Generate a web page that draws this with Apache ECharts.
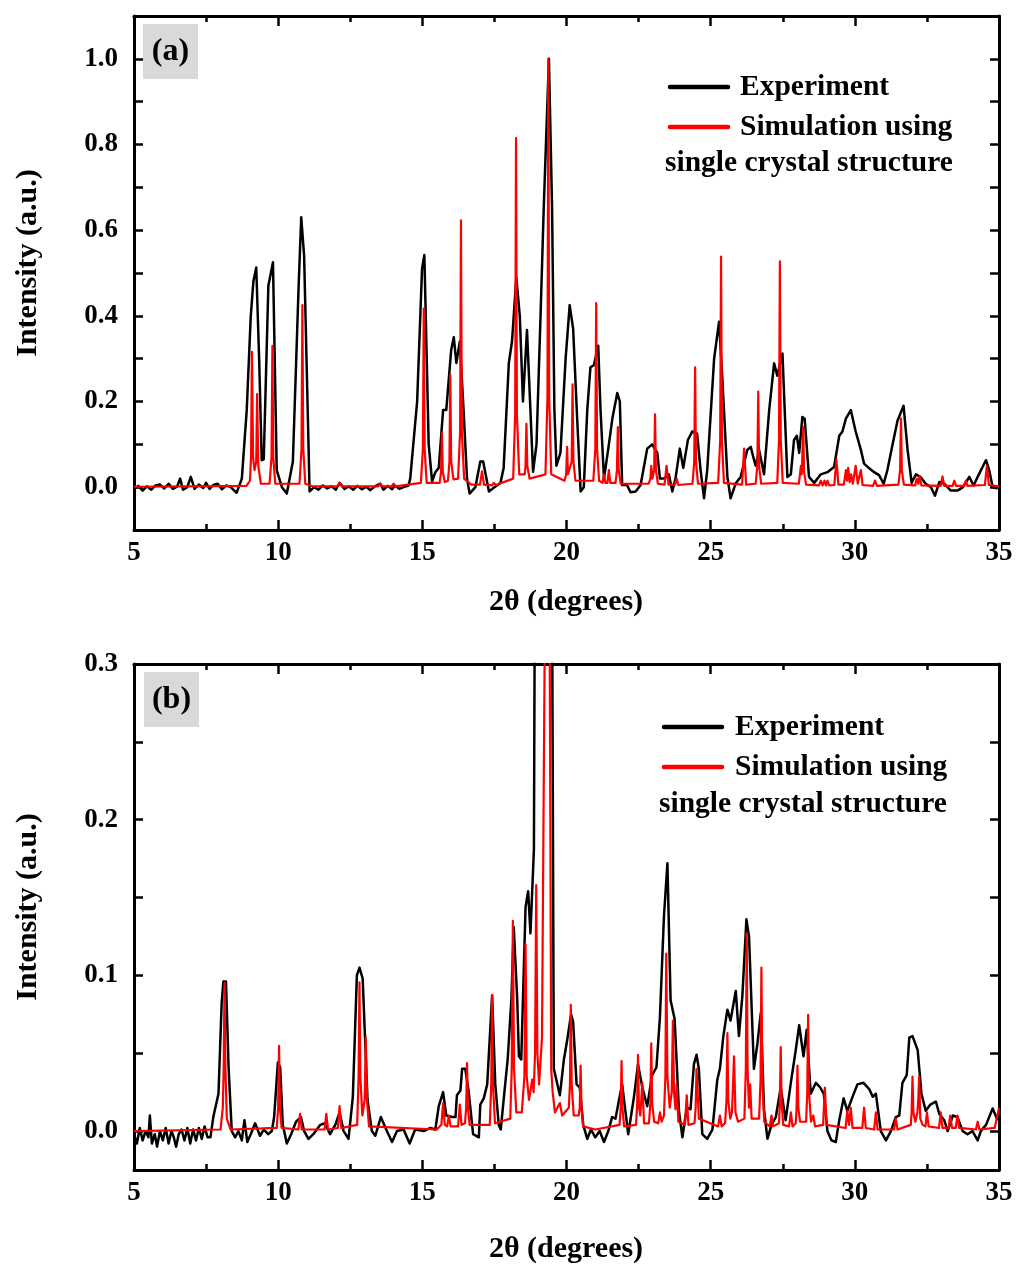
<!DOCTYPE html>
<html>
<head>
<meta charset="utf-8">
<script src="https://cdn.jsdelivr.net/npm/echarts@6/dist/echarts.min.js"></script>
<style>
html,body{margin:0;padding:0;background:#fff;}
#chart{width:1016px;height:1268px;}
</style>
</head>
<body>
<div id="chart"></div>
<script>
// ---------- DATA ----------
const xTicks = [5, 10, 15, 20, 25, 30, 35];
const yTicksA = [-0.1, 0, 0.1, 0.2, 0.3, 0.4, 0.5, 0.6, 0.7, 0.8, 0.9, 1.0, 1.1];
const yLabelsA = [0, 0.2, 0.4, 0.6, 0.8, 1.0];
const yTicksB = [0, 0.05, 0.1, 0.15, 0.2, 0.25, 0.3];
const yLabelsB = [0, 0.1, 0.2, 0.3];
const seriesNames = ['Experiment', 'Simulation using single crystal structure'];

// Panel (a) – experiment
const expA = [
[5.00,-0.005],[5.15,0.003],[5.30,-0.008],[5.45,0.002],[5.60,-0.006],[5.75,0.004],[5.90,0.006],[6.05,-0.003],
[6.20,0.008],[6.35,-0.004],[6.50,0.002],[6.60,0.020],[6.70,-0.006],[6.85,0.000],[6.97,0.024],[7.10,-0.004],
[7.25,0.006],[7.40,-0.002],[7.50,0.010],[7.62,-0.004],[7.75,0.005],[7.90,0.008],[8.05,-0.005],[8.20,0.004],
[8.35,0.000],[8.56,-0.013],[8.74,0.020],[8.91,0.180],[9.05,0.400],[9.14,0.480],[9.24,0.513],[9.34,0.300],
[9.43,0.063],[9.50,0.065],[9.66,0.470],[9.82,0.525],[9.95,0.040],[10.13,0.000],[10.30,-0.015],[10.51,0.060],
[10.71,0.470],[10.80,0.630],[10.90,0.540],[11.09,-0.010],[11.25,0.000],[11.40,-0.006],[11.55,0.004],[11.70,-0.003],
[11.85,0.002],[12.00,-0.006],[12.13,0.010],[12.30,-0.004],[12.45,0.002],[12.60,-0.006],[12.75,0.003],[12.90,-0.005],
[13.05,0.001],[13.20,-0.007],[13.35,0.002],[13.54,0.008],[13.65,-0.006],[13.80,0.003],[13.95,-0.005],[14.05,0.004],
[14.20,-0.004],[14.35,0.000],[14.52,0.004],[14.58,0.020],[14.82,0.200],[14.99,0.510],[15.07,0.542],[15.22,0.100],
[15.34,0.013],[15.45,0.035],[15.57,0.045],[15.72,0.180],[15.83,0.180],[16.00,0.320],[16.09,0.350],[16.18,0.290],
[16.30,0.340],[16.43,0.180],[16.55,0.020],[16.64,-0.015],[16.84,0.000],[17.01,0.060],[17.11,0.060],[17.31,-0.010],
[17.50,0.000],[17.71,0.010],[17.82,0.045],[18.00,0.290],[18.11,0.340],[18.26,0.490],[18.38,0.400],[18.49,0.200],
[18.63,0.367],[18.84,0.036],[18.96,0.100],[19.10,0.400],[19.21,0.650],[19.39,1.000],[19.50,0.650],[19.58,0.180],
[19.65,0.050],[19.79,0.080],[19.97,0.300],[20.11,0.425],[20.23,0.370],[20.37,0.160],[20.49,-0.010],[20.60,0.000],
[20.72,0.180],[20.83,0.280],[20.95,0.285],[21.10,0.330],[21.18,0.180],[21.30,0.020],[21.47,0.100],[21.59,0.160],
[21.76,0.220],[21.85,0.200],[21.93,0.005],[22.10,0.005],[22.22,-0.012],[22.40,-0.010],[22.57,0.005],[22.80,0.090],
[22.97,0.100],[23.15,0.080],[23.24,0.020],[23.40,0.020],[23.55,0.030],[23.67,-0.010],[23.78,0.020],[23.93,0.090],
[24.05,0.045],[24.21,0.110],[24.36,0.130],[24.53,0.125],[24.65,0.040],[24.77,-0.026],[24.88,0.040],[25.12,0.300],
[25.29,0.386],[25.40,0.260],[25.58,0.024],[25.69,-0.026],[25.87,0.009],[26.04,0.024],[26.27,0.087],[26.39,0.094],
[26.48,0.070],[26.56,0.050],[26.68,0.087],[26.85,0.030],[27.03,0.180],[27.20,0.289],[27.31,0.260],[27.49,0.312],
[27.66,0.024],[27.78,0.030],[27.89,0.110],[27.99,0.120],[28.07,0.080],[28.18,0.164],[28.26,0.160],[28.41,0.024],
[28.59,0.010],[28.82,0.030],[29.05,0.035],[29.28,0.047],[29.46,0.120],[29.57,0.130],[29.69,0.160],[29.86,0.180],
[30.03,0.130],[30.21,0.087],[30.32,0.055],[30.50,0.044],[30.67,0.035],[30.84,0.028],[31.00,0.008],[31.13,0.040],
[31.31,0.100],[31.48,0.155],[31.69,0.190],[31.83,0.087],[31.97,0.010],[32.12,0.030],[32.27,0.024],[32.46,0.008],
[32.64,0.000],[32.78,-0.020],[32.93,0.012],[33.10,0.008],[33.33,-0.008],[33.56,-0.008],[33.75,0.000],[33.97,0.024],
[34.12,0.004],[34.26,0.024],[34.43,0.047],[34.55,0.063],[34.66,0.040],[34.78,0.000],[34.95,-0.003]
];

// Panel (a) – simulation
const simA = [
[5.0,0.001],[8.9,0.003],
[9.02,0.015],[9.06,0.07],[9.09,0.316],[9.13,0.07],[9.18,0.04],[9.24,0.06],[9.27,0.217],[9.31,0.05],[9.40,0.008],
[9.70,0.008],[9.77,0.07],[9.80,0.33],[9.83,0.07],[9.90,0.008],
[10.74,0.008],[10.81,0.09],[10.84,0.425],[10.87,0.09],[10.94,0.008],
[11.2,0.002],[12.05,0.002],[12.13,0.01],[12.21,0.002],[13.47,0.002],[13.54,0.008],[13.61,0.002],[13.93,0.002],[14.0,0.008],[14.07,0.002],
[14.95,0.01],[15.02,0.09],[15.05,0.417],[15.08,0.09],[15.15,0.01],
[15.60,0.01],[15.65,0.035],[15.68,0.126],[15.71,0.035],[15.78,0.012],
[15.89,0.015],[15.94,0.06],[15.97,0.262],[16.00,0.06],[16.08,0.018],
[16.24,0.02],[16.31,0.13],[16.34,0.623],[16.37,0.13],[16.45,0.02],
[16.7,0.006],[17.0,0.006],[17.07,0.037],[17.14,0.006],[17.41,0.004],[17.48,0.01],[17.55,0.005],
[18.15,0.02],[18.22,0.17],[18.25,0.815],[18.28,0.17],[18.36,0.03],
[18.55,0.03],[18.58,0.05],[18.61,0.148],[18.64,0.05],[18.72,0.02],
[19.27,0.03],[19.34,0.21],[19.37,1.0],[19.40,0.21],[19.47,0.03],
[19.93,0.015],[19.99,0.03],[20.02,0.094],[20.05,0.03],[20.10,0.03],[20.18,0.06],[20.21,0.24],[20.24,0.06],[20.31,0.015],
[20.93,0.015],[21.00,0.09],[21.03,0.43],[21.06,0.09],[21.13,0.015],
[21.25,0.01],[21.30,0.03],[21.35,0.01],[21.42,0.01],[21.47,0.04],[21.52,0.01],[21.70,0.01],[21.75,0.04],[21.78,0.14],[21.81,0.04],[21.88,0.008],
[22.85,0.008],[22.91,0.02],[22.94,0.05],[22.98,0.02],[23.04,0.04],[23.07,0.17],[23.10,0.04],[23.17,0.008],
[23.40,0.006],[23.47,0.05],[23.54,0.006],[23.76,0.006],[23.82,0.02],[23.88,0.005],
[24.37,0.008],[24.43,0.06],[24.46,0.28],[24.49,0.06],[24.56,0.008],
[25.26,0.01],[25.33,0.11],[25.36,0.538],[25.39,0.11],[25.46,0.01],
[26.09,0.006],[26.16,0.09],[26.23,0.006],
[26.56,0.008],[26.62,0.05],[26.65,0.223],[26.68,0.05],[26.75,0.008],
[27.31,0.01],[27.37,0.11],[27.40,0.527],[27.43,0.11],[27.50,0.01],
[28.06,0.008],[28.13,0.05],[28.16,0.03],[28.21,0.14],[28.24,0.035],[28.31,0.006],
[28.76,0.004],[28.82,0.015],[28.88,0.004],[28.95,0.015],[29.0,0.004],[29.05,0.015],[29.11,0.004],
[29.29,0.005],[29.36,0.065],[29.43,0.006],
[29.62,0.006],[29.69,0.04],[29.73,0.015],[29.77,0.045],[29.82,0.012],[29.87,0.03],[29.93,0.008],[30.03,0.05],[30.10,0.008],[30.16,0.008],[30.21,0.04],[30.27,0.005],
[30.63,0.003],[30.70,0.015],[30.77,0.003],
[31.51,0.006],[31.57,0.04],[31.60,0.16],[31.63,0.04],[31.70,0.006],
[32.09,0.004],[32.15,0.02],[32.20,0.008],[32.25,0.025],[32.31,0.004],
[32.98,0.003],[33.04,0.025],[33.10,0.003],[33.39,0.003],[33.45,0.015],[33.51,0.003],[33.79,0.003],[33.85,0.015],[33.91,0.003],
[34.51,0.005],[34.58,0.05],[34.65,0.005],[35.0,0.002]
];

// Panel (b) – experiment
const expB = [
[5.00,-0.002],[5.10,-0.008],[5.20,0.002],[5.30,-0.006],[5.40,0.000],[5.50,-0.004],[5.55,0.010],[5.62,-0.008],
[5.72,-0.002],[5.80,-0.010],[5.90,0.000],[6.00,-0.006],[6.10,0.002],[6.20,-0.008],[6.30,0.000],[6.38,-0.004],
[6.46,-0.010],[6.55,-0.002],[6.65,0.001],[6.75,-0.006],[6.85,0.002],[6.95,-0.008],[7.05,0.001],[7.15,-0.006],
[7.25,0.002],[7.35,-0.005],[7.45,0.003],[7.55,-0.004],[7.65,-0.004],[7.75,0.009],[7.93,0.024],[8.04,0.082],
[8.10,0.096],[8.19,0.096],[8.28,0.041],[8.39,0.000],[8.51,-0.004],[8.62,0.000],[8.74,-0.006],[8.83,0.007],
[8.93,-0.007],[9.05,-0.002],[9.20,0.005],[9.37,-0.003],[9.50,0.001],[9.65,-0.002],[9.78,0.000],[9.86,0.009],
[9.99,0.044],[10.07,0.041],[10.16,0.004],[10.30,-0.008],[10.45,-0.002],[10.62,0.006],[10.79,0.009],[10.90,0.000],
[11.05,-0.005],[11.22,-0.002],[11.46,0.004],[11.62,0.005],[11.80,-0.002],[11.98,0.004],[12.13,0.012],[12.27,0.000],
[12.44,-0.005],[12.59,0.022],[12.73,0.100],[12.82,0.105],[12.93,0.098],[13.10,0.020],[13.25,0.000],[13.37,-0.003],
[13.56,0.009],[13.77,0.000],[13.95,-0.007],[14.12,0.000],[14.35,0.001],[14.56,-0.008],[14.75,0.001],[15.05,0.000],
[15.28,0.002],[15.45,0.001],[15.57,0.016],[15.72,0.025],[15.83,0.010],[16.03,0.009],[16.15,0.009],[16.20,0.023],
[16.32,0.026],[16.38,0.040],[16.49,0.040],[16.61,0.025],[16.76,-0.002],[16.96,-0.004],[17.01,0.017],[17.13,0.021],
[17.25,0.030],[17.42,0.087],[17.53,0.030],[17.65,0.004],[17.72,0.001],[17.82,0.020],[17.96,0.046],[18.09,0.085],
[18.17,0.131],[18.29,0.085],[18.35,0.048],[18.43,0.046],[18.49,0.085],[18.58,0.144],[18.67,0.154],[18.75,0.127],
[18.87,0.181],[18.93,0.500],[19.20,0.800],[19.38,1.000],[19.48,0.450],[19.56,0.040],[19.77,0.023],[19.91,0.046],
[20.02,0.058],[20.16,0.075],[20.23,0.070],[20.35,0.030],[20.46,0.028],[20.58,0.004],[20.72,-0.005],[20.85,0.001],
[21.00,-0.004],[21.15,0.000],[21.30,-0.007],[21.45,0.000],[21.58,0.009],[21.70,0.008],[21.82,0.020],[21.93,0.030],
[22.14,-0.002],[22.34,0.022],[22.48,0.043],[22.63,0.028],[22.80,0.016],[22.97,0.036],[23.12,0.041],[23.24,0.073],
[23.38,0.138],[23.50,0.172],[23.61,0.084],[23.75,0.072],[23.90,0.013],[24.02,-0.004],[24.17,0.015],[24.30,0.014],
[24.42,0.043],[24.51,0.049],[24.59,0.040],[24.71,-0.002],[24.88,-0.005],[25.06,0.001],[25.23,0.033],[25.32,0.040],
[25.44,0.061],[25.58,0.078],[25.69,0.071],[25.87,0.090],[25.98,0.061],[26.10,0.087],[26.24,0.136],[26.33,0.125],
[26.50,0.040],[26.62,0.056],[26.74,0.076],[26.85,0.014],[26.97,-0.005],[27.11,0.004],[27.26,0.009],[27.43,0.028],
[27.60,0.007],[27.78,0.031],[27.95,0.052],[28.07,0.068],[28.22,0.048],[28.33,0.065],[28.47,0.024],[28.65,0.031],
[28.80,0.028],[28.92,0.024],[29.05,0.000],[29.19,-0.006],[29.34,-0.007],[29.46,0.007],[29.61,0.021],[29.74,0.013],
[29.92,0.022],[30.09,0.030],[30.30,0.031],[30.50,0.027],[30.62,0.022],[30.73,0.024],[30.90,0.000],[31.08,-0.006],
[31.25,0.000],[31.42,0.009],[31.54,0.010],[31.65,0.031],[31.80,0.036],[31.89,0.060],[32.00,0.061],[32.18,0.052],
[32.31,0.024],[32.46,0.013],[32.62,0.017],[32.81,0.019],[32.93,0.011],[33.10,0.007],[33.22,0.000],[33.40,0.010],
[33.56,0.009],[33.74,0.000],[33.91,-0.002],[34.08,0.000],[34.26,-0.006],[34.37,0.000],[34.55,0.004],[34.78,0.0145],
[34.95,0.007]
];

// Panel (b) – simulation
const simB = [
[5.0,0.0],[8.0,0.001],[8.08,0.015],[8.11,0.04],[8.14,0.095],[8.17,0.04],[8.22,0.008],[8.35,0.001],
[9.95,0.002],[10.00,0.015],[10.03,0.0547],[10.06,0.015],[10.12,0.002],
[10.70,0.001],[10.76,0.011],[10.82,0.001],[11.61,0.001],[11.67,0.011],[11.73,0.001],[12.07,0.002],[12.13,0.016],[12.19,0.002],
[12.74,0.004],[12.79,0.035],[12.82,0.0955],[12.85,0.035],[12.92,0.01],[13.0,0.02],[13.04,0.06],[13.08,0.02],[13.15,0.003],
[15.5,0.001],[15.66,0.004],[15.72,0.018],[15.78,0.004],[15.86,0.003],[15.92,0.01],[15.98,0.003],[16.24,0.003],[16.30,0.017],[16.36,0.004],
[16.48,0.005],[16.52,0.015],[16.55,0.0436],[16.58,0.015],[16.64,0.004],
[17.34,0.004],[17.39,0.03],[17.42,0.0875],[17.45,0.03],[17.52,0.005],
[18.05,0.008],[18.10,0.04],[18.14,0.135],[18.18,0.04],[18.26,0.012],[18.45,0.012],[18.54,0.035],[18.58,0.12],[18.62,0.035],[18.70,0.02],
[18.76,0.02],[18.81,0.033],[18.86,0.025],[18.91,0.05],[18.95,0.158],[18.99,0.05],[19.05,0.03],[19.15,0.06],[19.24,0.3],[19.28,0.8],
[19.33,1.0],[19.38,0.8],[19.42,0.3],[19.47,0.04],[19.52,0.025],[19.60,0.012],[19.77,0.018],[19.85,0.01],[20.08,0.015],[20.12,0.03],
[20.15,0.081],[20.18,0.03],[20.25,0.01],[20.42,0.01],[20.46,0.015],[20.49,0.042],[20.52,0.015],[20.58,0.003],
[21.0,0.001],[21.84,0.004],[21.88,0.015],[21.91,0.045],[21.94,0.015],[22.0,0.003],
[22.41,0.004],[22.45,0.016],[22.48,0.049],[22.51,0.016],[22.56,0.01],[22.63,0.031],[22.69,0.005],[22.86,0.005],[22.91,0.018],[22.94,0.0564],
[22.97,0.018],[23.04,0.006],[23.18,0.005],[23.24,0.012],[23.30,0.006],[23.38,0.01],[23.43,0.035],[23.46,0.114],[23.50,0.035],[23.58,0.015],
[23.65,0.025],[23.69,0.071],[23.73,0.025],[23.78,0.014],[23.82,0.03],[23.88,0.006],[24.11,0.004],[24.17,0.023],[24.23,0.004],[24.44,0.005],
[24.48,0.015],[24.51,0.04],[24.55,0.039],[24.59,0.008],[25.26,0.003],[25.32,0.01],[25.38,0.003],
[25.50,0.005],[25.55,0.02],[25.58,0.063],[25.61,0.02],[25.68,0.008],[25.74,0.012],[25.81,0.048],[25.86,0.012],[25.95,0.006],
[26.17,0.008],[26.22,0.04],[26.25,0.127],[26.28,0.04],[26.33,0.015],[26.37,0.03],[26.42,0.008],[26.68,0.008],[26.73,0.033],[26.76,0.105],
[26.79,0.033],[26.86,0.006],[27.05,0.003],[27.11,0.01],[27.17,0.003],[27.37,0.005],[27.40,0.018],[27.43,0.054],[27.46,0.018],[27.52,0.004],
[27.72,0.003],[27.78,0.012],[27.84,0.003],[27.95,0.005],[27.98,0.015],[28.01,0.042],[28.04,0.015],[28.10,0.006],[28.31,0.006],[28.35,0.025],
[28.38,0.0747],[28.41,0.025],[28.48,0.006],[28.56,0.01],[28.62,0.003],[28.90,0.004],[28.96,0.028],[29.02,0.004],
[29.68,0.002],[29.74,0.013],[29.80,0.004],[29.86,0.015],[29.92,0.002],[30.26,0.002],[30.32,0.015],[30.38,0.002],[30.67,0.001],[30.73,0.012],
[30.79,0.001],[31.36,0.001],[31.42,0.008],[31.48,0.001],
[31.94,0.004],[31.97,0.012],[32.00,0.035],[32.03,0.012],[32.10,0.006],[32.17,0.012],[32.20,0.02],[32.23,0.035],[32.27,0.008],[32.35,0.004],
[32.45,0.003],[32.50,0.012],[32.56,0.003],[32.92,0.002],[32.98,0.012],[33.04,0.002],[33.25,0.002],[33.31,0.01],[33.37,0.002],[33.50,0.002],
[33.56,0.01],[33.62,0.002],[34.20,0.001],[34.26,0.006],[34.32,0.001],[34.85,0.002],[34.92,0.008],[35.0,0.015]
];

// ---------- CHART ----------
const FONT = '"Liberation Serif", "Times New Roman", serif';
const chart = echarts.init(document.getElementById('chart'), null, {renderer: 'canvas'});

function xAx(gridIndex, pos) {
  const bottom = pos === 'bottom';
  return {
    type: 'value', gridIndex, position: pos, min: 5, max: 35, interval: 5,
    axisLine: {show: true, onZero: false, lineStyle: {color: '#000', width: 3}},
    axisTick: {show: true, inside: true, length: 10, lineStyle: {color: '#000', width: 2.5}},
    minorTick: {show: true, splitNumber: 2, length: 6, lineStyle: {color: '#000', width: 2.5}},
    axisLabel: {show: bottom, margin: 10, fontFamily: FONT, fontWeight: 'bold', fontSize: 27, color: '#000'},
    splitLine: {show: false}, minorSplitLine: {show: false}
  };
}
function yAx(gridIndex, pos, min, max, ticks, labels) {
  const left = pos === 'left';
  return {
    type: 'value', gridIndex, position: pos, min, max,
    axisLine: {show: true, onZero: false, lineStyle: {color: '#000', width: 3}},
    axisTick: {show: true, inside: true, length: 9, customValues: ticks, lineStyle: {color: '#000', width: 2.5}},
    axisLabel: {show: left, margin: 16, customValues: labels, formatter: v => Number(v).toFixed(1),
      fontFamily: FONT, fontWeight: 'bold', fontSize: 27, color: '#000'},
    splitLine: {show: false}
  };
}

const lineSeries = (name, data, xi, yi, color, width) => ({
  name, type: 'line', data, xAxisIndex: xi, yAxisIndex: yi, showSymbol: false, symbol: 'none',
  lineStyle: {color, width, join: 'round'}, clip: true, animation: false, z: color === '#ff0000' ? 3 : 2
});

function legendGraphics(lx, ly, tx, sx, sy) {
  const f = 'bold 29.5px ' + FONT;
  return [
    {type: 'line', shape: {x1: lx, y1: ly, x2: lx + 58, y2: ly}, style: {stroke: '#000', lineWidth: 4.5, lineCap: 'round'}},
    {type: 'text', x: tx, y: ly, style: {text: seriesNames[0], font: f, fill: '#000', textAlign: 'left', textVerticalAlign: 'middle'}},
    {type: 'line', shape: {x1: lx, y1: ly + 40, x2: lx + 58, y2: ly + 40}, style: {stroke: '#ff0000', lineWidth: 4.5, lineCap: 'round'}},
    {type: 'text', x: tx, y: ly + 40, style: {text: 'Simulation using', font: f, fill: '#000', textAlign: 'left', textVerticalAlign: 'middle'}},
    {type: 'text', x: sx, y: sy, style: {text: 'single crystal structure', font: f, fill: '#000', textAlign: 'left', textVerticalAlign: 'middle'}}
  ];
}
function panelLabel(x, y, t) {
  return [
    {type: 'rect', shape: {x, y, width: 55, height: 55}, style: {fill: '#d9d9d9'}},
    {type: 'text', x: x + 27.5, y: y + 28, style: {text: t, font: 'bold 32px ' + FONT, fill: '#000', textAlign: 'center', textVerticalAlign: 'middle'}}
  ];
}
function titles(cy, xty) {
  const f = 'bold 30px ' + FONT;
  return [
    {type: 'text', x: 28, y: cy, rotation: Math.PI / 2, style: {text: 'Intensity (a.u.)', font: f, fill: '#000', textAlign: 'center', textVerticalAlign: 'middle'}},
    {type: 'text', x: 566, y: xty, style: {text: '2θ (degrees)', font: f, fill: '#000', textAlign: 'center', textVerticalAlign: 'middle'}}
  ];
}

const option = {
  animation: false,
  backgroundColor: '#ffffff',
  grid: [
    {left: 134, top: 16, width: 865, height: 514},
    {left: 134, top: 664, width: 865, height: 506}
  ],
  xAxis: [xAx(0, 'bottom'), xAx(0, 'top'), xAx(1, 'bottom'), xAx(1, 'top')],
  yAxis: [
    yAx(0, 'left', -0.1, 1.1, yTicksA, yLabelsA), yAx(0, 'right', -0.1, 1.1, yTicksA, yLabelsA),
    yAx(1, 'left', -0.025, 0.3, yTicksB, yLabelsB), yAx(1, 'right', -0.025, 0.3, yTicksB, yLabelsB)
  ],
  series: [
    lineSeries(seriesNames[0], expA, 0, 0, '#000000', 2.5),
    lineSeries(seriesNames[1], simA, 0, 0, '#ff0000', 2.2),
    lineSeries(seriesNames[0], expB, 2, 2, '#000000', 2.5),
    lineSeries(seriesNames[1], simB, 2, 2, '#ff0000', 2.2)
  ],
  graphic: [].concat(
    panelLabel(143, 24, '(a)'),
    panelLabel(144, 672, '(b)'),
    legendGraphics(670, 87, 740, 665, 163),
    legendGraphics(664, 727, 735, 659, 804),
    titles(263, 602),
    titles(907, 1249)
  )
};
chart.setOption(option);
</script>
</body>
</html>
